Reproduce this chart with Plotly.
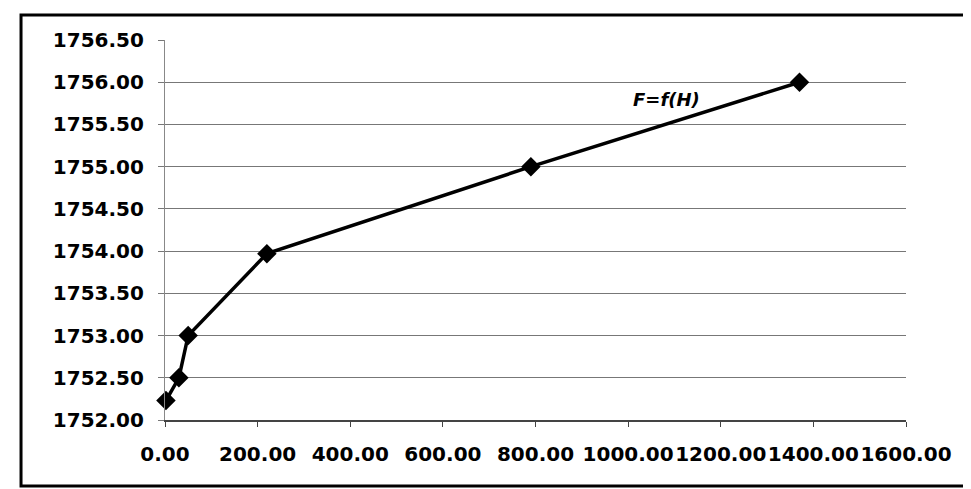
import plotly.graph_objects as go

# Data
H_values = [2, 30, 50, 220, 790, 1370]
F_values = [1752.23, 1752.50, 1753.00, 1753.97, 1755.00, 1756.00]
series_name = "F=f(H)"

x_range = [0, 1600]
y_range = [1752.0, 1756.5]

fig = go.Figure()
fig.add_trace(go.Scatter(
    x=H_values, y=F_values, mode="lines+markers", name=series_name,
    line=dict(color="black", width=3.5),
    marker=dict(symbol="diamond", size=15, color="black"),
    cliponaxis=False,
))

tick_font = dict(family="DejaVu Sans", size=20, color="black", weight="bold")

fig.update_layout(
    width=971, height=489,
    margin=dict(l=157, r=73, t=32, b=77),
    paper_bgcolor="white", plot_bgcolor="white",
    showlegend=False,
    xaxis=dict(
        range=x_range, dtick=200, tick0=0, tickformat=".2f", tickangle=0,
        showgrid=False, zeroline=False,
        showline=True, linecolor="#444", linewidth=1.5,
        ticks="outside", ticklen=5, tickcolor="#444",
        tickfont=tick_font, ticklabelstandoff=10,
    ),
    yaxis=dict(
        range=y_range, dtick=0.5, tick0=1752, tickformat=".2f",
        showgrid=True, gridcolor="#777", gridwidth=1.2,
        zeroline=False,
        showline=True, linecolor="#888", linewidth=1.2,
        ticks="outside", ticklen=6, tickcolor="#777",
        tickfont=tick_font, ticklabelstandoff=10,
    ),
    annotations=[dict(
        x=1083, y=1755.80, xref="x", yref="y", text="<b><i>F=f(H)</i></b>",
        showarrow=False, font=dict(family="DejaVu Sans", size=18, color="black"),
    )],
    shapes=[dict(
        type="rect", xref="paper", yref="paper",
        x0=-0.1943, x1=1.0918, y0=-0.1737, y1=1.0658,
        line=dict(color="black", width=3),
    )],
)

fig.write_html("out.html")
